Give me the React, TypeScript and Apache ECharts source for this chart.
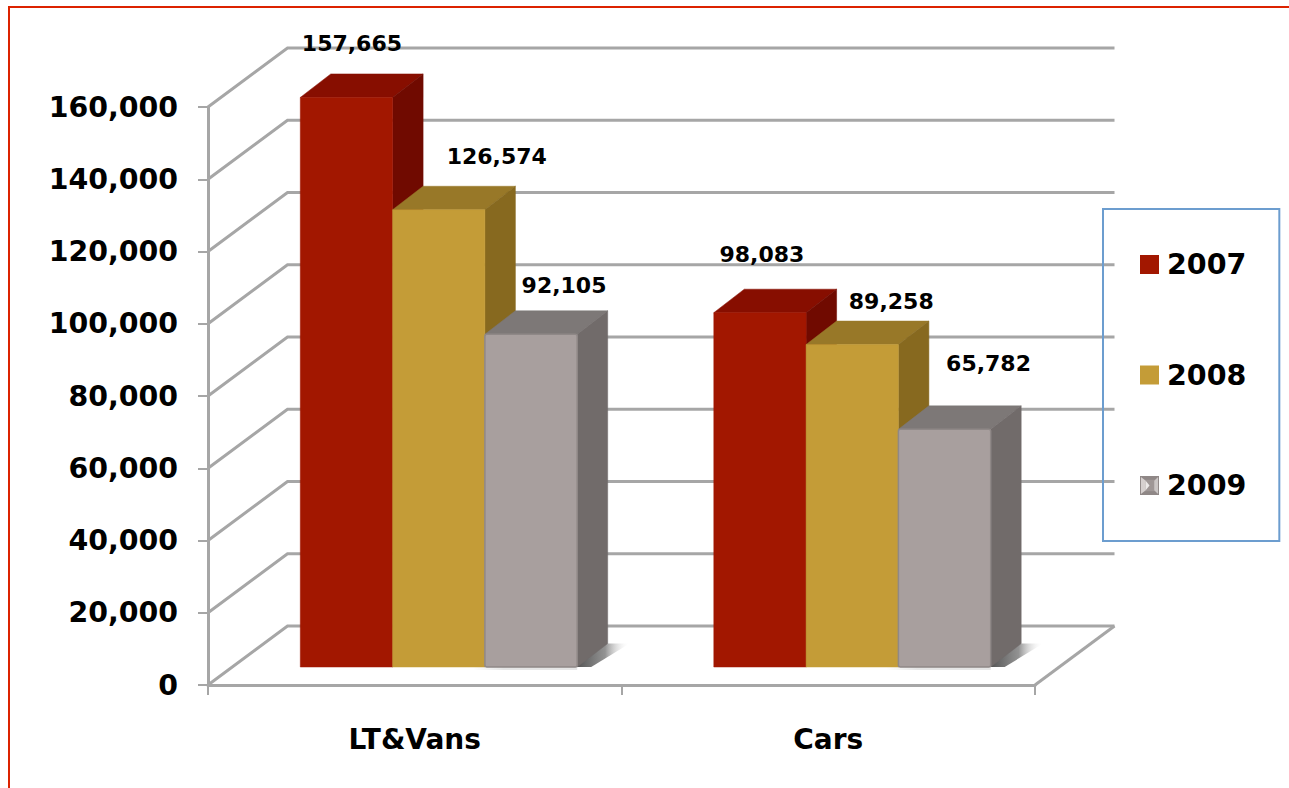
import React, { useEffect, useRef } from "react";
import * as echarts from "echarts";

const categories = ["LT&Vans", "Cars"];
const seriesNames = ["2007", "2008", "2009"];
const values2007 = [157665, 98083];
const values2008 = [126574, 89258];
const values2009 = [92105, 65782];
const valueTicks = [0, 20000, 40000, 60000, 80000, 100000, 120000, 140000, 160000];

const FONT = '"DejaVu Sans", sans-serif';
const GRID_COLOR = "#a6a6a6";

// Projection of the 3D box, in pixels
const WALL_DX = 79.5;
const WALL_DY = 59;
const BAR_SHIFT_X = 24;
const BAR_SHIFT_Y = 18;
const BAR_DEPTH_X = 30.5;
const BAR_DEPTH_Y = 23.5;
const BAR_WIDTH_PX = 92.3;

const palettes = [
  { front: "#a21700", top: "#870e00", side: "#700a00", rim: "#a21700" },
  { front: "#c49c37", top: "#987828", side: "#87691f", rim: "#c49c37" },
  { front: "#a89f9e", top: "#7d7877", side: "#716b6a", rim: "#8f8887" },
];

// Hand placement of the value labels relative to each bar's top centre: [dx, dy]
const labelNudges = [
  [[5.5, -54], [2, -58]],
  [[58, -53], [39, -43]],
  [[33, -49], [44, -66]],
];

const bevelIcon =
  "image://data:image/svg+xml;utf8," +
  encodeURIComponent(
    '<svg xmlns="http://www.w3.org/2000/svg" width="20" height="20">' +
      '<rect width="20" height="20" fill="#8f8786"/>' +
      '<rect x="2" y="4" width="16" height="12" fill="#9f9796"/>' +
      '<polygon points="1,1 6,5 6,15 1,19" fill="#d6d0cf"/>' +
      '<polygon points="19,1 15,5 15,15 19,19" fill="#cbc6c5"/>' +
      '<polygon points="6,5 10,10 6,15" fill="#ece9e8"/>' +
      "</svg>"
  );

function barSeries(index: number, values: number[]) {
  const pal = palettes[index];
  return {
    type: "custom",
    name: seriesNames[index],
    coordinateSystem: "cartesian2d",
    itemStyle: { color: pal.front },
    encode: { x: 0, y: 1 },
    data: values.map((v, i) => [i, v]),
    z: 5,
    renderItem: (params: any, api: any) => {
      const cat = api.value(0);
      const val = api.value(1);
      const base = api.coord([cat, 0]);
      const top = api.coord([cat, val]);
      const x0 = base[0] + BAR_SHIFT_X + (index - 1.5) * BAR_WIDTH_PX;
      const x1 = x0 + BAR_WIDTH_PX;
      const yb = base[1] - BAR_SHIFT_Y;
      const yt = top[1] - BAR_SHIFT_Y;
      const dx = BAR_DEPTH_X;
      const dy = BAR_DEPTH_Y;
      const rimWidth = index === 2 ? 1.5 : 0.5;
      const nudge = labelNudges[index][params.dataIndex];
      const under =
        index === 2
          ? [
              {
                type: "rect",
                shape: { x: x0 - 12, y: yb, width: BAR_WIDTH_PX + 12, height: 3 },
                style: {
                  fill: new echarts.graphic.LinearGradient(0, 0, 1, 0, [
                    { offset: 0, color: "rgba(0,0,0,0)" },
                    { offset: 0.3, color: "rgba(0,0,0,0.1)" },
                    { offset: 1, color: "rgba(0,0,0,0.1)" },
                  ]),
                },
              },
            ]
          : [];
      return {
        type: "group",
        children: [
          ...under,
          {
            type: "polygon",
            shape: { points: [[x1 - 2, yb], [x1 + dx - 2, yb - dy], [x1 + dx + 22, yb - dy], [x1 + 14, yb]] },
            style: {
              fill: new echarts.graphic.LinearGradient(0, 0, 1, 0, [
                { offset: 0, color: "rgba(60,60,60,0.9)" },
                { offset: 0.55, color: "rgba(100,100,100,0.7)" },
                { offset: 1, color: "rgba(255,255,255,0)" },
              ]),
            },
          },
          {
            type: "polygon",
            shape: { points: [[x0, yt], [x0 + dx, yt - dy], [x1 + dx, yt - dy], [x1, yt]] },
            style: { fill: pal.top, stroke: pal.top, lineWidth: 0.5 },
          },
          {
            type: "polygon",
            shape: { points: [[x1, yt], [x1 + dx, yt - dy], [x1 + dx, yb - dy], [x1, yb]] },
            style: { fill: pal.side, stroke: pal.side, lineWidth: 0.5 },
          },
          {
            type: "rect",
            shape: { x: x0, y: yt, width: BAR_WIDTH_PX, height: yb - yt, r: index === 2 ? 2 : 0 },
            style: { fill: pal.front, stroke: pal.rim, lineWidth: rimWidth },
          },
          {
            type: "text",
            style: {
              text: val.toLocaleString("en-US"),
              x: (x0 + x1) / 2 + nudge[0],
              y: yt + nudge[1],
              align: "center",
              verticalAlign: "middle",
              fill: "#000",
              font: `bold 22px ${FONT}`,
            },
          },
        ],
      };
    },
  };
}

const wallSeries = {
  type: "custom",
  name: "wall",
  coordinateSystem: "cartesian2d",
  silent: true,
  encode: { y: 0 },
  data: valueTicks.map((v) => [v]),
  z: 1,
  renderItem: (_: any, api: any) => {
    const v = api.value(0);
    const left = api.coord([0, v]);
    const size = api.size([1, 0]);
    const xL = left[0] - size[0] / 2;
    const xR = xL + size[0] * categories.length;
    const y = left[1];
    const style = { stroke: GRID_COLOR, lineWidth: 3, fill: "none" };
    const children: any[] = [
      {
        type: "polyline",
        shape: { points: [[xL, y], [xL + WALL_DX, y - WALL_DY], [xR + WALL_DX, y - WALL_DY]] },
        style,
      },
    ];
    if (v === 0) {
      children.push({
        type: "polyline",
        shape: { points: [[xR, y], [xR + WALL_DX, y - WALL_DY]] },
        style,
      });
    }
    return { type: "group", children };
  },
};

export default function App() {
  const ref = useRef<HTMLDivElement>(null);
  useEffect(() => {
    const chart = echarts.init(ref.current!, null, { renderer: "svg" });
    chart.setOption({
      animation: false,
      backgroundColor: "#ffffff",
      grid: { left: 208, right: 254, top: 107, bottom: 103 },
      graphic: [
        {
          type: "polyline",
          shape: { points: [[9, 790], [9, 7], [1290, 7]] },
          style: { stroke: "#dc2300", lineWidth: 2, fill: "none" },
        },
      ],
      xAxis: {
        type: "category",
        data: categories,
        boundaryGap: true,
        axisLine: { show: true, lineStyle: { color: GRID_COLOR, width: 3 } },
        axisTick: { show: true, length: 10, lineStyle: { color: GRID_COLOR, width: 2 } },
        axisLabel: { color: "#000", fontFamily: FONT, fontWeight: "bold", fontSize: 28, margin: 40 },
      },
      yAxis: {
        type: "value",
        min: 0,
        max: 160000,
        interval: 20000,
        axisLine: { show: true, lineStyle: { color: GRID_COLOR, width: 3 } },
        axisTick: { show: true, length: 10, lineStyle: { color: GRID_COLOR, width: 2 } },
        splitLine: { show: false },
        axisLabel: {
          color: "#000",
          fontFamily: FONT,
          fontWeight: "bold",
          fontSize: 28.4,
          margin: 30,
          padding: [5, 0, 0, 0],
          formatter: (v: number) => v.toLocaleString("en-US"),
        },
      },
      legend: {
        show: true,
        orient: "vertical",
        left: 1103,
        top: 209,
        padding: [41, 33, 41, 37],
        borderColor: "#6c9dcf",
        borderWidth: 2,
        itemWidth: 19,
        itemHeight: 19,
        itemGap: 81.5,
        textStyle: {
          color: "#000",
          fontFamily: FONT,
          fontWeight: "bold",
          fontSize: 28.5,
          padding: [0, 0, 0, 3],
        },
        data: [
          { name: "2007", icon: "rect" },
          { name: "2008", icon: "rect" },
          { name: "2009", icon: bevelIcon },
        ],
      },
      series: [
        wallSeries,
        barSeries(0, values2007),
        barSeries(1, values2008),
        barSeries(2, values2009),
      ],
    });
    return () => chart.dispose();
  }, []);
  return (
    <div
      ref={ref}
      style={{ position: "absolute", left: 0, top: 0, width: 1289, height: 788, overflow: "hidden" }}
    />
  );
}
